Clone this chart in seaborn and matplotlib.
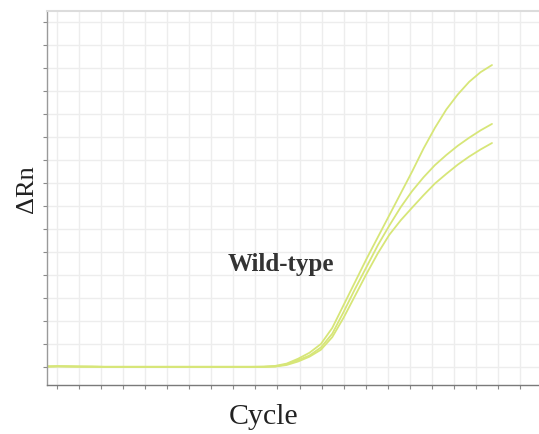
import numpy as np
import pandas as pd
import matplotlib
matplotlib.use("Agg")
import matplotlib.pyplot as plt
import seaborn as sns

# amplification curves (delta Rn per cycle)
cycles = list(range(1, 41))
curve_a = [0.03, 0.04, 0.03, 0.02, 0.02, 0.01, 0.01, 0.01, 0.01, 0.01,
           0.01, 0.01, 0.01, 0.01, 0.01, 0.01, 0.01, 0.01, 0.01, 0.02,
           0.05, 0.15, 0.36, 0.62, 1.0, 1.7, 2.7, 3.7, 4.7, 5.65,
           6.6, 7.55, 8.5, 9.5, 10.4, 11.2, 11.85, 12.4, 12.82, 13.13]
curve_b = [0.02, 0.03, 0.03, 0.02, 0.02, 0.01, 0.01, 0.01, 0.01, 0.01,
           0.01, 0.01, 0.01, 0.01, 0.01, 0.01, 0.01, 0.01, 0.01, 0.01,
           0.03, 0.12, 0.3, 0.5, 0.85, 1.45, 2.4, 3.4, 4.35, 5.3,
           6.15, 6.95, 7.65, 8.25, 8.78, 9.22, 9.62, 9.97, 10.29, 10.57]
curve_c = [0.02, 0.03, 0.02, 0.02, 0.01, 0.01, 0.01, 0.01, 0.01, 0.01,
           0.01, 0.01, 0.01, 0.01, 0.01, 0.01, 0.01, 0.01, 0.01, 0.01,
           0.02, 0.09, 0.24, 0.45, 0.75, 1.3, 2.15, 3.1, 4.05, 4.95,
           5.75, 6.38, 6.93, 7.47, 7.98, 8.4, 8.8, 9.15, 9.46, 9.74]
wells = ["A", "B", "C"]


def build_frame():
    parts = []
    for well, vals in zip(wells, [curve_a, curve_b, curve_c]):
        parts.append(pd.DataFrame({"Cycle": cycles, "dRn": vals, "well": well}))
    return pd.concat(parts, ignore_index=True)


def main():
    df = build_frame()
    sns.set_style("white")
    plt.rcParams["font.family"] = ["Liberation Serif", "DejaVu Serif"]

    fig = plt.figure(figsize=(5.39, 4.34), dpi=100)
    ax = fig.add_axes([0.0872, 0.1129, 0.9128, 0.8618])

    line_col = "#d7e678"
    sns.lineplot(data=df, x="Cycle", y="dRn", hue="well",
                 palette=[line_col] * 3, linewidth=1.3, legend=False, ax=ax)

    ax.set_xlim(1, 44.12)
    ax.set_ylim(-0.78, 15.48)
    ax.set_xticks(1.876 + 1.9325 * np.arange(22))
    ax.set_yticks(np.arange(0, 16))
    ax.set_xticklabels([])
    ax.set_yticklabels([])
    ax.grid(True, color="#ededed", linewidth=1.0)
    ax.tick_params(axis="both", direction="out", length=3, width=0.8,
                   colors="#8a8a8a", left=True, bottom=True)

    ax.spines["right"].set_visible(False)
    ax.spines["left"].set_color("#9a9a9a")
    ax.spines["bottom"].set_color("#7a7a7a")
    ax.spines["top"].set_color("#dcdcdc")
    ax.spines["top"].set_linewidth(1.5)
    for side in ["left", "bottom"]:
        ax.spines[side].set_linewidth(1.0)

    ax.set_xlabel("Cycle", fontsize=21.5, color="#222222")
    ax.xaxis.set_label_coords(0.441, -0.05)
    ax.set_ylabel("\u0394Rn", fontsize=19, color="#222222")
    ax.yaxis.set_label_coords(-0.018, 0.524)

    ax.text(21.5, 4.45, "Wild-type", fontsize=18, fontweight="bold",
            color="#333333", ha="center", va="center")

    fig.savefig("out.png", dpi=100)


if __name__ == "__main__":
    main()
